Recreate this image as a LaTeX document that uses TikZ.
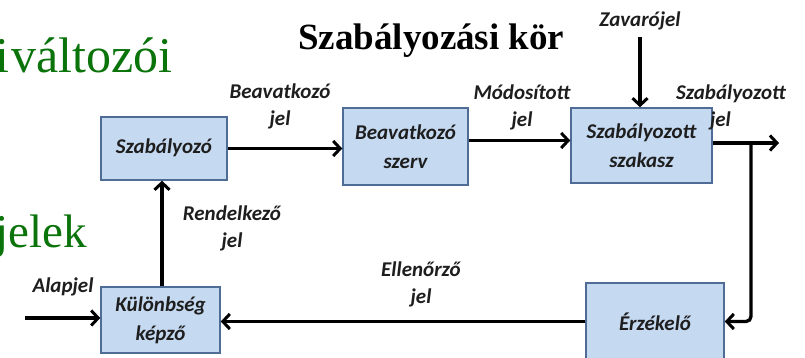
\documentclass[tikz,border=0pt]{standalone}
\usepackage{fontspec}
\setmainfont{Liberation Serif}
\newfontfamily\lblfont{Carlito}
\usetikzlibrary{arrows.meta}
\definecolor{boxfill}{RGB}{197,217,241}
\definecolor{boxdraw}{RGB}{78,108,150}
\definecolor{slidegreen}{RGB}{10,115,10}
\definecolor{lbltext}{RGB}{30,30,30}
\begin{document}
\begin{tikzpicture}[x=1pt,y=-1pt,
  blk/.style={draw=boxdraw, fill=boxfill, line width=1.5pt, rectangle, inner sep=0pt,
              font=\lblfont\bfseries\itshape\fontsize{21}{29}\selectfont, text=lbltext, align=center},
  lbl/.style={font=\lblfont\bfseries\itshape\fontsize{21}{27}\selectfont, align=center,
              inner sep=0pt, text=lbltext},
  sig/.style={line width=3.3pt, -{Straight Barb[length=7pt,width=15pt,line width=3pt]}},
  bigtxt/.style={text=slidegreen, inner sep=0pt}
]
\useasboundingbox (0,0) rectangle (805,358);
\clip (0,0) rectangle (805,358);
\fill[white] (0,0) rectangle (805,358);

% green slide text (cut at the left)
\node[bigtxt, font=\fontsize{50}{56}\selectfont, anchor=base east] (g1) at (173,73) {i\hspace{2pt}változói};
\node[bigtxt, font=\fontsize{47}{52}\selectfont, anchor=base east] (g2) at (87,247) {jelek};

% title
\node[font=\bfseries\fontsize{37}{42}\selectfont, anchor=base west, inner sep=0pt] (title) at (298,50) {Szabályozási kör};

% blocks
\node[blk, minimum width=126pt, minimum height=63pt] (szab) at (164,148.5) {\raisebox{5pt}{Szabályozó}};
\node[blk, minimum width=125pt, minimum height=77pt] (beav) at (405.5,146.5) {Beavatkozó\\szerv};
\node[blk, minimum width=141pt, minimum height=75pt] (szak) at (641.5,145.5) {Szabályozott\\szakasz};
\node[blk, minimum width=119pt, minimum height=66pt] (kul) at (160.5,320) {Különbség\\képző};
\node[blk, minimum width=138pt, minimum height=77pt] (erz) at (655,321.5) {Érzékelő};

% free ends
\coordinate (out) at (779,143);
\coordinate (br) at (751,143);
\coordinate (zv) at (640,37);
\coordinate (in) at (25,318);

% connectors
\draw[sig] (szab.east) -- (beav.west |- szab.east);
\draw[sig] ([yshift=6pt]beav.east) -- ([yshift=6pt]beav.east -| szak.west);
\draw[sig] (szak.east |- out) -- (out);
\draw[sig, rounded corners=5pt] (br) |- (erz.east);
\draw[sig] (zv) -- (zv |- szak.north);
\draw[sig] (erz.west) -- (kul.east |- erz.west);
\draw[sig] (kul.north -| 162,0) -- (szab.south -| 162,0);
\draw[sig] (in) -- (kul.west |- in);

% labels
\node[lbl] (l1) at (280,106) {Beavatkozó\\jel};
\node[lbl] (l2) at (522,107) {Módosított\\jel};
\node[lbl, align=left] (l3) at (731,107) {Szabályozott\\\hspace*{34pt}jel};
\node[lbl] (l4) at (640,21) {Zavarójel};
\node[lbl] (l5) at (232,228) {Rendelkező\\jel};
\node[lbl] (l6) at (63,287) {Alapjel};
\node[lbl] (l7) at (421,284) {Ellenőrző\\jel};
\end{tikzpicture}
\end{document}
